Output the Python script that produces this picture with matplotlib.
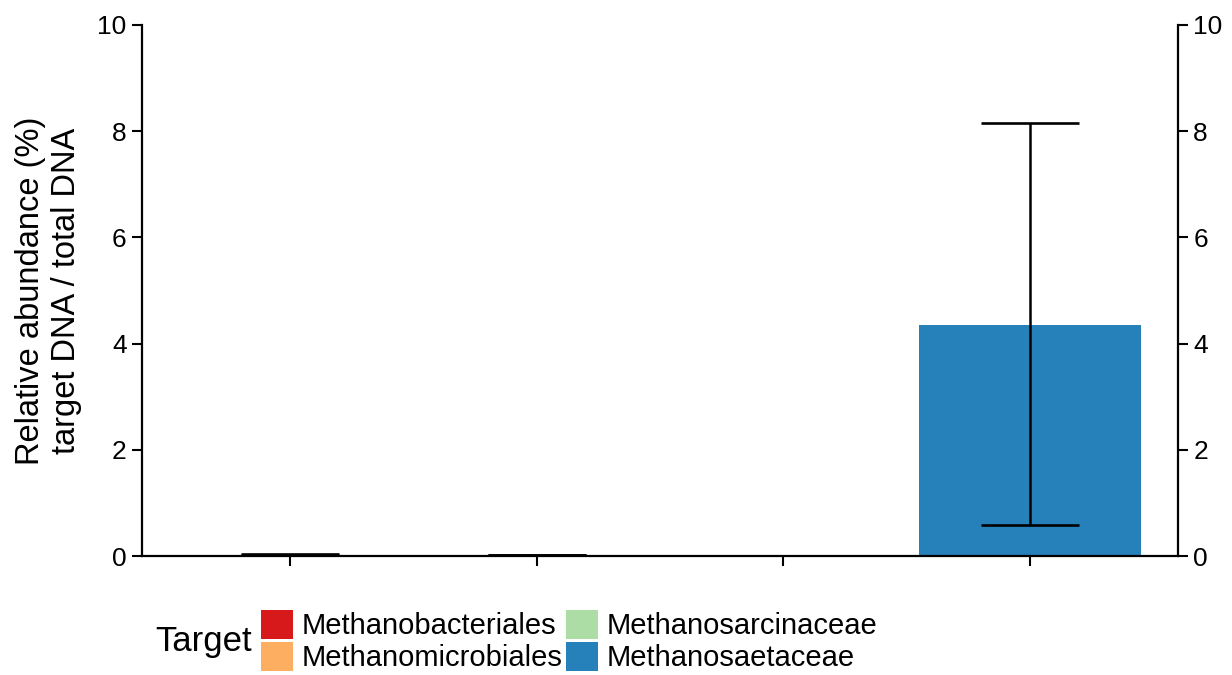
import numpy as np
import matplotlib.pyplot as plt
from matplotlib.patches import Patch

plt.rcParams['font.family'] = ['Liberation Sans', 'DejaVu Sans']

# ───── data ─────────────────────────────────────────────
targets = ["Methanobacteriales", "Methanomicrobiales",
           "Methanosarcinaceae", "Methanosaetaceae"]
means = [0.02, 0.01, 0.0, 4.35]
err_low = [0.02, 0.01, 0.0, 0.58]
err_high = [0.03, 0.02, 0.0, 8.15]
colors = ["#d7191c", "#fdae61", "#abdda4", "#2681ba"]
y_ticks = [0, 2, 4, 6, 8, 10]

W, H = 1232, 675

fig = plt.figure(figsize=(W / 100, H / 100), dpi=100)
ax = fig.add_axes([142 / W, 1 - 556 / H, (1178 - 142) / W, (556 - 25) / H])

x = np.arange(1, len(targets) + 1)
ax.bar(x, means, width=0.9, color=colors)

# error bars only where there is a spread
for xi, lo, hi in zip(x, err_low, err_high):
    if hi <= 0:
        continue
    ax.errorbar(xi, (lo + hi) / 2, yerr=(hi - lo) / 2, fmt="none",
                ecolor="black", elinewidth=1.8, capsize=35.5, capthick=1.9)

ax.set_xlim(0.4, 4.6)
ax.set_ylim(0, 10)
ax.set_xticks(x)
ax.set_xticklabels([])
ax.set_yticks(y_ticks)
ax.tick_params(axis="y", labelsize=19, width=1.5, length=7, pad=4,
               right=True, labelright=True)
ax.tick_params(axis="x", width=1.5, length=7)
for side in ["left", "right", "bottom"]:
    ax.spines[side].set_linewidth(1.6)
ax.spines["top"].set_visible(False)

ax.set_ylabel("Relative abundance (%)\ntarget DNA / total DNA", fontsize=23.5,
              linespacing=1.2, labelpad=11)

# legend with title on the left
fig.text(155 / W, 1 - 641 / H, "Target", fontsize=25, va="center", ha="left")
handles = [Patch(facecolor=c, edgecolor="none") for c in colors]
fig.legend(handles, targets, ncol=2, loc="center left",
           bbox_to_anchor=(261 / W, 1 - 641 / H), frameon=False,
           fontsize=21, handlelength=1.1, handleheight=1.17,
           handletextpad=0.3, columnspacing=0.12, labelspacing=0.04,
           borderpad=0, borderaxespad=0)

fig.savefig("out.png", dpi=100)
